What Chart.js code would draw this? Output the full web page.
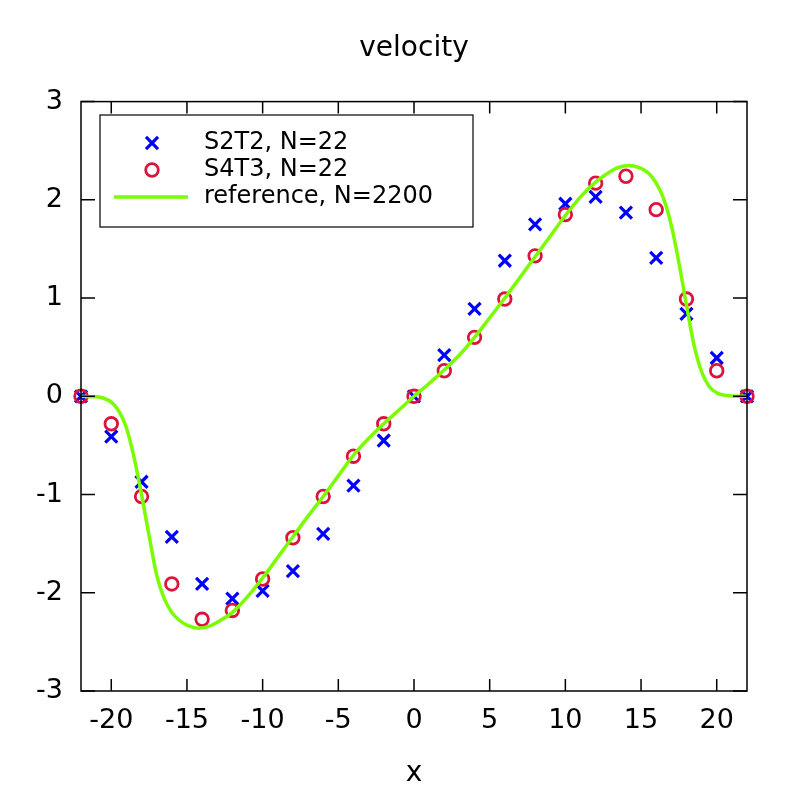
<!DOCTYPE html>
<html>
<head>
<meta charset="utf-8">
<script src="https://cdn.jsdelivr.net/npm/chart.js@4.4.1/dist/chart.umd.min.js"></script>
<style>
  html, body { margin: 0; padding: 0; background: #fff; }
  canvas { display: block; }
</style>
</head>
<body>
<canvas id="myChart" width="800" height="800"></canvas>
<script>
// sample points (both schemes, N=22)
const xPoints = [-22, -20, -18, -16, -14, -12, -10, -8, -6, -4, -2, 0, 2, 4, 6, 8, 10, 12, 14, 16, 18, 20, 22];
const s2t2 = [0, -0.41, -0.87, -1.43, -1.91, -2.06, -1.98, -1.78, -1.40, -0.91, -0.45, 0, 0.42, 0.89, 1.38, 1.75, 1.96, 2.03, 1.87, 1.41, 0.84, 0.39, 0];
const s4t3 = [0, -0.28, -1.02, -1.91, -2.27, -2.18, -1.86, -1.44, -1.02, -0.61, -0.28, 0, 0.26, 0.60, 0.99, 1.43, 1.85, 2.17, 2.24, 1.90, 0.99, 0.26, 0];

// reference curve
const refX = [-22, -21, -20.5, -20, -19.5, -19, -18.5, -18, -17.5, -17, -16.5, -16, -15.5, -15, -14.25, -13.5, -13, -12, -11, -10, -9, -8, -7, -6, -5, -4, -3, -2, -1, 0,
              1, 2, 3, 4, 5, 6, 7, 8, 9, 10, 11, 12, 13, 13.5, 14.25, 15, 15.5, 16, 16.5, 17, 17.5, 18, 18.5, 19, 19.5, 20, 20.5, 21, 22];
const refY = [0, -0.005, -0.02, -0.06, -0.15, -0.32, -0.62, -1.0, -1.42, -1.82, -2.06, -2.2, -2.28, -2.33, -2.36, -2.34, -2.3, -2.2, -2.04, -1.85, -1.64, -1.43, -1.22, -1.02, -0.81, -0.6, -0.43, -0.28, -0.14, 0,
              0.13, 0.27, 0.42, 0.6, 0.8, 1.0, 1.21, 1.42, 1.63, 1.84, 2.03, 2.18, 2.29, 2.33, 2.35, 2.32, 2.27, 2.17, 2.01, 1.74, 1.36, 0.93, 0.52, 0.25, 0.1, 0.035, 0.012, 0.003, 0];

const xTicks = [-20, -15, -10, -5, 0, 5, 10, 15, 20];
const yTicks = [-3, -2, -1, 0, 1, 2, 3];

const FONT = 'DejaVu Sans';

function pts(xs, ys) {
    const out = [];
    for (let n = 0; n < xs.length; n++) {
        out.push({x: xs[n], y: ys[n]});
    }
    return out;
}

// gnuplot style border with ticks on all four sides, pointing inward
const frame = {
    id: 'frame',
    afterDraw(chart) {
        const ctx = chart.ctx;
        const a = chart.chartArea;
        const sx = chart.scales.x, sy = chart.scales.y;
        ctx.save();
        ctx.strokeStyle = '#000';
        ctx.lineWidth = 1.5;
        ctx.strokeRect(a.left, a.top, a.right - a.left, a.bottom - a.top);
        ctx.beginPath();
        xTicks.forEach(v => {
            const px = sx.getPixelForValue(v);
            ctx.moveTo(px, a.bottom); ctx.lineTo(px, a.bottom - 12);
            ctx.moveTo(px, a.top); ctx.lineTo(px, a.top + 12);
        });
        yTicks.forEach(v => {
            const py = sy.getPixelForValue(v);
            ctx.moveTo(a.left, py); ctx.lineTo(a.left + 14, py);
            ctx.moveTo(a.right, py); ctx.lineTo(a.right - 14, py);
        });
        ctx.stroke();
        ctx.restore();
    }
};

// boxed key in the upper left, like the original
const keyBox = {
    id: 'keyBox',
    afterDraw(chart) {
        const ctx = chart.ctx;
        const left = 100, top = 115, w = 373, h = 112;
        ctx.save();
        ctx.fillStyle = '#fff';
        ctx.fillRect(left, top, w, h);
        ctx.strokeStyle = '#000';
        ctx.lineWidth = 1.2;
        ctx.strokeRect(left, top, w, h);
        ctx.font = '24px "' + FONT + '"';
        ctx.textBaseline = 'middle';
        ctx.textAlign = 'left';
        chart.data.datasets.forEach((ds, i) => {
            const y = 143 + i * 27;
            ctx.strokeStyle = ds.borderColor;
            ctx.fillStyle = ds.backgroundColor;
            ctx.lineWidth = ds.borderWidth;
            if (ds.showLine) {
                ctx.beginPath();
                ctx.moveTo(114, y);
                ctx.lineTo(188, y);
                ctx.stroke();
            } else {
                Chart.helpers.drawPoint(ctx, {
                    pointStyle: ds.pointStyle,
                    radius: ds.pointRadius,
                    borderWidth: ds.borderWidth,
                    rotation: 0
                }, 152, y);
            }
            ctx.fillStyle = '#000';
            ctx.fillText(ds.label, 204, y);
        });
        ctx.restore();
    }
};

const chart = document.querySelector('#myChart').getContext('2d');

const myChart = new Chart(chart, {
    type: 'scatter',
    data: {
        datasets: [{
            label: 'S2T2, N=22',
            data: pts(xPoints, s2t2),
            pointStyle: 'crossRot',
            pointRadius: 8.5,
            borderColor: '#0000ff',
            backgroundColor: '#0000ff',
            borderWidth: 3.2,
            clip: false,
            order: 3
        }, {
            label: 'S4T3, N=22',
            data: pts(xPoints, s4t3),
            pointStyle: 'circle',
            pointRadius: 6.3,
            borderColor: '#dc143c',
            backgroundColor: 'rgba(0,0,0,0)',
            borderWidth: 2.8,
            clip: false,
            order: 2
        }, {
            label: 'reference, N=2200',
            data: pts(refX, refY),
            showLine: true,
            pointRadius: 0,
            borderColor: '#7cfc00',
            backgroundColor: '#7cfc00',
            borderWidth: 3.5,
            cubicInterpolationMode: 'monotone',
            clip: false,
            order: 1
        }]
    },
    options: {
        responsive: false,
        animation: false,
        layout: { padding: { left: 0, right: 53, top: 0, bottom: 0 } },
        plugins: {
            legend: { display: false },
            tooltip: { enabled: false },
            title: {
                display: true,
                fullSize: false,
                text: 'velocity',
                color: '#000',
                font: { family: FONT, size: 28, weight: 'normal' },
                padding: { top: 32, bottom: 36 }
            }
        },
        scales: {
            x: {
                type: 'linear',
                min: -22,
                max: 22,
                grid: { display: false, drawTicks: false },
                border: { display: false },
                afterBuildTicks: s => { s.ticks = xTicks.map(v => ({value: v})); },
                afterFit: s => { s.height = 109; },
                ticks: {
                    color: '#000',
                    padding: 14,
                    maxRotation: 0,
                    font: { family: FONT, size: 27 }
                },
                title: {
                    display: true,
                    text: 'x',
                    color: '#000',
                    font: { family: FONT, size: 28 },
                    padding: { top: 10, bottom: 9 }
                }
            },
            y: {
                type: 'linear',
                min: -3,
                max: 3,
                grid: { display: false, drawTicks: false },
                border: { display: false },
                afterBuildTicks: s => { s.ticks = yTicks.map(v => ({value: v})); },
                afterFit: s => { s.width = 81; },
                ticks: {
                    color: '#000',
                    padding: 18,
                    font: { family: FONT, size: 27 }
                }
            }
        }
    },
    plugins: [frame, keyBox]
});
</script>
</body>
</html>
